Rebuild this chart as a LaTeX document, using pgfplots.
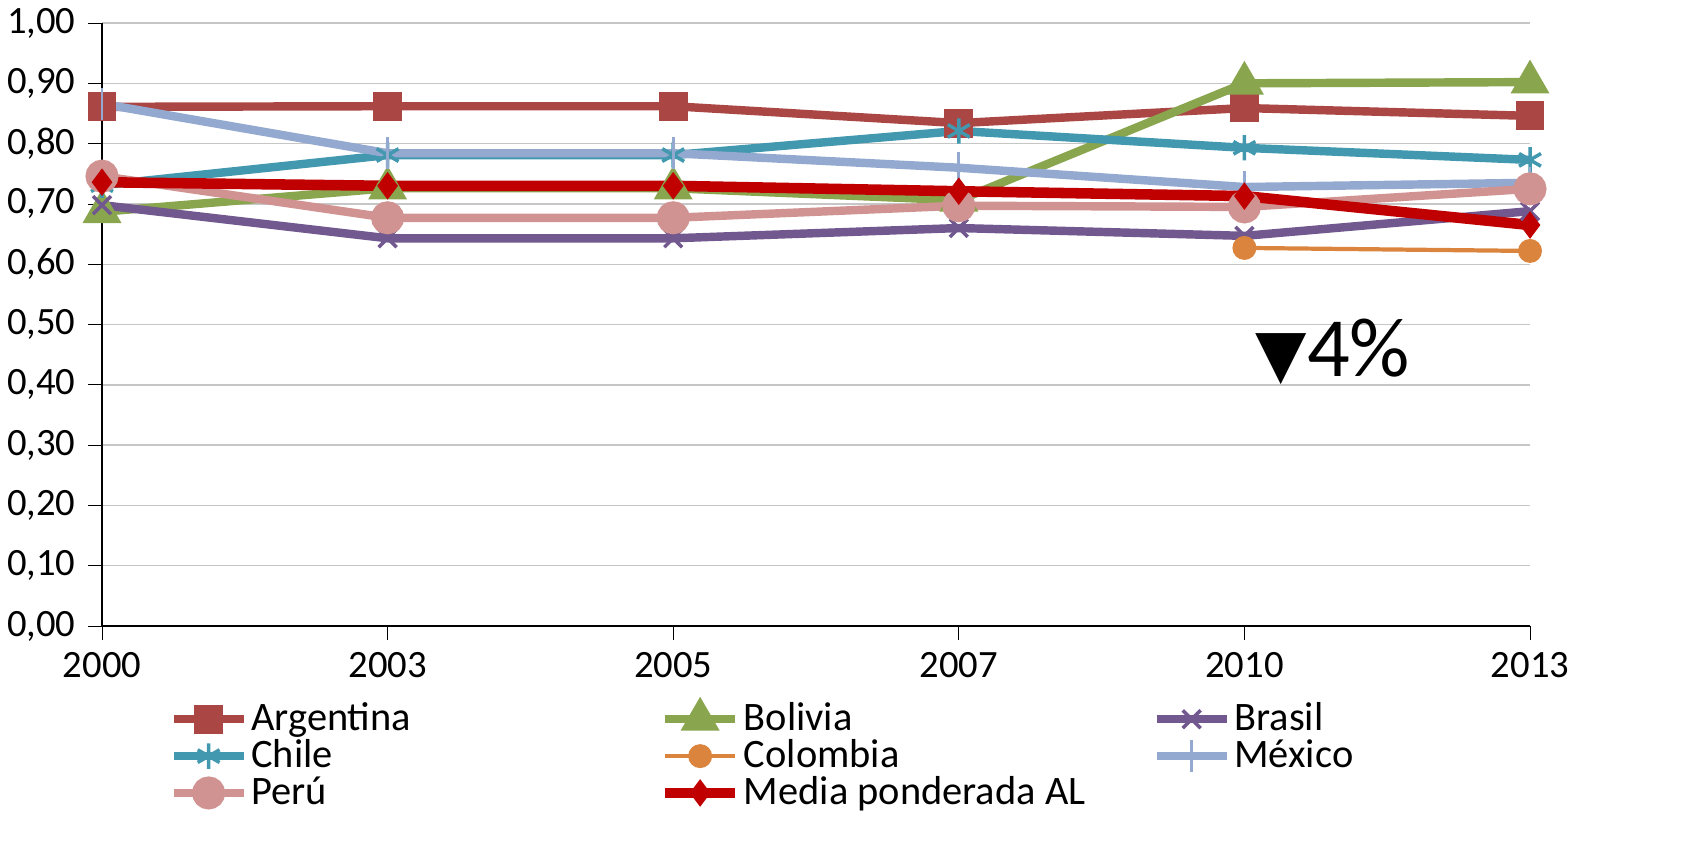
\documentclass[border=0pt]{standalone}
\usepackage{pgfplots}
\pgfplotsset{compat=1.18}
\usepackage{fontspec}
\setmainfont{Carlito}
\newfontfamily\dejavu{DejaVu Sans}
\definecolor{cA}{HTML}{AA4643}
\definecolor{cB}{HTML}{89A54E}
\definecolor{cBr}{HTML}{71588F}
\definecolor{cC}{HTML}{4198AF}
\definecolor{cCo}{HTML}{DB843D}
\definecolor{cM}{HTML}{93A9CF}
\definecolor{cP}{HTML}{D19392}
\definecolor{cR}{HTML}{C00000}
\newcommand\lentry[1]{\makebox[4.05cm][l]{#1}}
\begin{document}
\begin{tikzpicture}
\useasboundingbox (-1.02,0.23) rectangle (15.9,-8.31);
\begin{axis}[at={(0,0)},anchor=north west,
 scale only axis, width=14.28cm, height=6.03cm,
 xmin=0,xmax=5, ymin=0,ymax=1,
 xtick={0,...,5}, xticklabels={2000,2003,2005,2007,2010,2013},
 ytick={0,0.1,...,1.0},
 yticklabel={\pgfmathprintnumber[fixed,fixed zerofill,precision=2,use comma]{\tick}},
 /pgf/number format/assume math mode=true,
 ymajorgrids, grid style={gray!45},
 axis x line*=bottom, axis y line*=left,
 tick style={black}, major tick length=4pt,
 xtick align=outside, ytick align=outside,
 tick label style={font=\fontsize{11}{12}\selectfont},
 legend style={at={(0.0467,-0.12)},anchor=north west,draw=none,fill=none,
   font=\fontsize{11.5}{12}\selectfont, inner sep=0pt,
   nodes={inner sep=1pt}, row sep=-1pt},
 legend columns=3, legend cell align=left,
 legend image code/.code={\draw[#1] (0cm,0cm) -- (0.7cm,0cm); \draw[#1] plot coordinates {(0.35cm,0cm)};},
 every axis plot/.append style={line width=2.4pt, mark size=2.9pt},
]
\addplot[cA, mark=square*] coordinates {(0,0.861)(1,0.862)(2,0.862)(3,0.834)(4,0.859)(5,0.846)};
\addplot[cB, mark=triangle*,mark size=4pt] coordinates {(0,0.687)(1,0.726)(2,0.726)(3,0.706)(4,0.900)(5,0.902)};
\addplot[cBr, mark=x, mark size=3.6pt,mark options={line width=1pt}] coordinates {(0,0.698)(1,0.643)(2,0.643)(3,0.660)(4,0.647)(5,0.688)};
\addplot[cC, mark=asterisk, mark size=3.6pt,mark options={line width=1pt}] coordinates {(0,0.731)(1,0.781)(2,0.781)(3,0.821)(4,0.793)(5,0.773)};
\addplot[cCo, mark=*, line width=1.2pt, mark size=2.8pt] coordinates {(4,0.627)(5,0.622)};
\addplot[cM, mark=|, mark size=4.5pt,mark options={line width=0.8pt}] coordinates {(0,0.866)(1,0.784)(2,0.784)(3,0.760)(4,0.728)(5,0.735)};
\addplot[cP, mark=*, mark size=3.5pt] coordinates {(0,0.746)(1,0.677)(2,0.677)(3,0.697)(4,0.695)(5,0.725)};
\addplot[cR, mark=diamond*, mark size=3.6pt, line width=3pt,mark options={line width=0.4pt}] coordinates {(0,0.736)(1,0.730)(2,0.730)(3,0.721)(4,0.713)(5,0.665)};
\legend{\lentry{Argentina},\lentry{Bolivia},\lentry{Brasil},\lentry{Chile},\lentry{Colombia},\lentry{México},\lentry{Perú},\lentry{Media ponderada AL}}
\node[font=\fontsize{24}{24}\selectfont] at (axis cs:4.31,0.455) {{\dejavu\fontsize{19}{19}\selectfont▼}4\%};
\end{axis}
\end{tikzpicture}
\end{document}
